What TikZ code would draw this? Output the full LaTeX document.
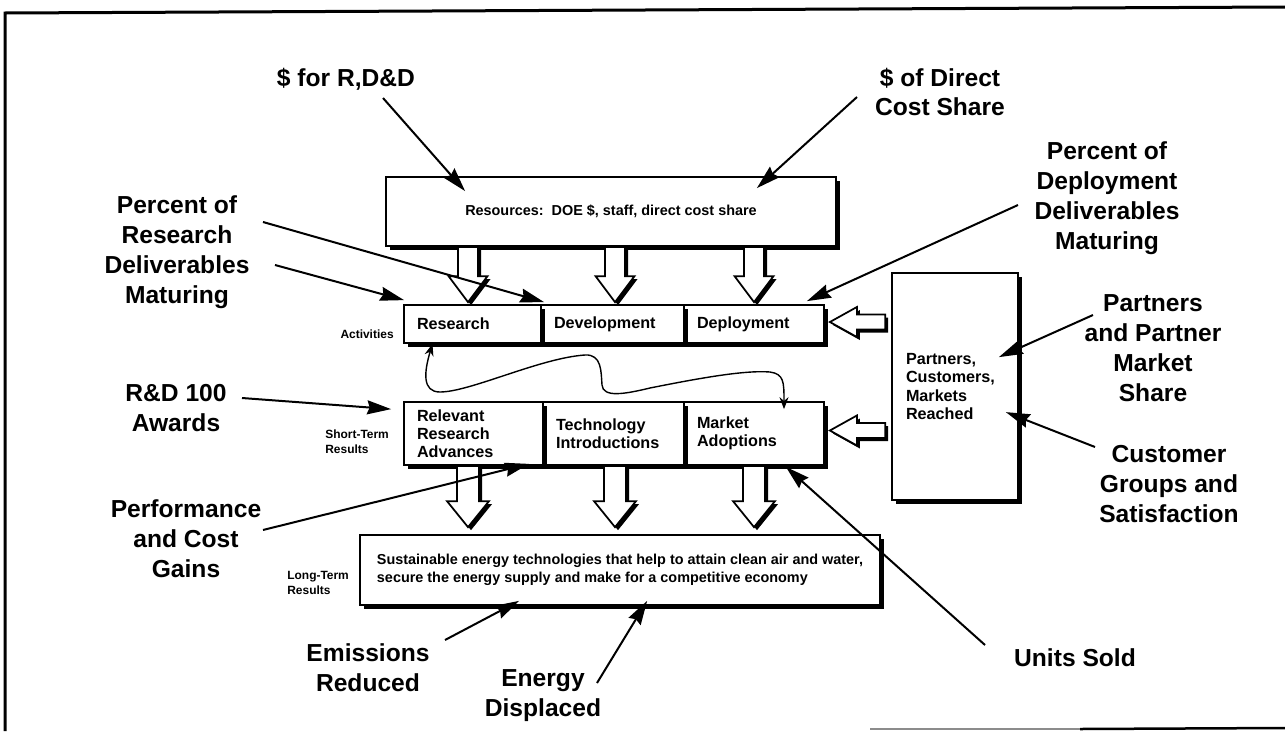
\documentclass[tikz,border=0pt]{standalone}
\usepackage{fontspec}
\setmainfont{Liberation Sans}
\usetikzlibrary{calc,arrows.meta,shadows}

% Hollow block arrow with a black drop shadow:
% #1 start, #2 tip, #3 shaft half-width, #4 head half-width, #5 head length
\newcommand\blockarrow[5]{%
  \path let \p1=(#1), \p2=(#2) in
    \pgfextra{%
      \pgfmathsetmacro\batmpa{atan2(\y2-\y1,\x2-\x1)}%
      \pgfmathsetmacro\batmpb{veclen(\x2-\x1,\y2-\y1)}%
      \xdef\baang{\batmpa}\xdef\balen{\batmpb pt}\xdef\bax{\x1}\xdef\bay{\y1}};
  \begin{scope}[shift={(\bax,\bay)},xshift=0.6mm,yshift=-0.6mm,rotate=\baang]
    \fill (0pt,-#3) -- ({\balen-#5},-#3) -- ({\balen-#5},-#4) -- (\balen,0pt)
      -- ({\balen-#5},#4) -- ({\balen-#5},#3) -- (0pt,#3) -- cycle;
  \end{scope}
  \begin{scope}[shift={(\bax,\bay)},rotate=\baang]
    \filldraw[fill=white,line width=0.35mm,line join=miter]
      (0pt,-#3) -- ({\balen-#5},-#3) -- ({\balen-#5},-#4) -- (\balen,0pt)
      -- ({\balen-#5},#4) -- ({\balen-#5},#3) -- (0pt,#3) -- cycle;
  \end{scope}}

\begin{document}
\begin{tikzpicture}[x=0.2mm,y=-0.2mm,
  box/.style={draw,line width=0.35mm,fill=white,inner ysep=0pt,
    drop shadow={shadow xshift=0.7mm,shadow yshift=-0.7mm,fill=black,opacity=1},
    font=\fontsize{9.2}{10.3}\selectfont\bfseries},
  rowbox/.style={box,inner xsep=2.6mm,align=left},
  big/.style={font=\fontsize{14}{17}\selectfont\bfseries,align=center,inner sep=0pt},
  tag/.style={font=\fontsize{6.8}{8.3}\selectfont\bfseries,align=left,inner sep=0pt},
  ptr/.style={line width=0.4mm,-{Stealth[length=4.8mm,width=2.8mm,inset=0.5mm]}},
  loop/.style={line width=0.28mm,{Stealth[length=2.4mm,width=1.8mm]}-{Stealth[length=2.4mm,width=1.8mm]}}]
\useasboundingbox (0,0) rectangle (1285,731);

% outer frame
\draw[line width=0.6mm] (5,731) -- (5,13) -- (1285,7);
\draw[line width=0.3mm,black!45] (870,729) -- (1080,729);
\draw[line width=0.5mm] (1080,729) -- (1285,728);

% resources
\node[box,minimum width=90mm,minimum height=13.8mm,
      font=\fontsize{8.2}{10}\selectfont\bfseries] (res) at (611,211.5)
  {Resources:\ \ DOE \$, staff, direct cost share};

% activities row (drawn right to left so each shadow shows)
\node[rowbox,minimum height=7.6mm,text width=22.8mm] (deploy) at (754,324) {Deployment};
\node[rowbox,minimum height=7.6mm,text width=23.4mm] (devel) at (612.5,324) {Development};
\node[rowbox,minimum height=7.6mm,text width=22.2mm] (resrch) at (472.5,324) {Research};

% short-term results row
\node[rowbox,minimum height=12.6mm,text width=22.8mm] (market) at (754,433.5) {Market\\Adoptions};
\node[rowbox,minimum height=12.6mm,text width=23mm] (techno) at (613.5,433.5) {Technology\\Introductions};
\node[rowbox,minimum height=12.6mm,text width=22.6mm] (relev) at (473.5,433.5) {Relevant\\Research\\Advances};

% long-term results
\node[box,align=left,minimum width=104mm,minimum height=14mm,
      font=\fontsize{8.2}{10}\selectfont\bfseries] (lt) at (620,570)
  {Sustainable energy technologies that help to attain clean air and water,\\
   secure the energy supply and make for a competitive economy};

% partners box
\node[rowbox,minimum width=25.2mm,minimum height=45.4mm,text width=19.6mm,inner xsep=2.8mm] (rb) at (955,386.5)
  {Partners,\\Customers,\\Markets\\Reached};

% row tags
\node[tag,anchor=east] (tact) at (394,334) {Activities};
\node[tag,anchor=west] (tst) at (325,442) {Short-Term\\Results};
\node[tag,anchor=west] (tlt) at (287,583) {Long-Term\\Results};

% block arrows
\coordinate (c1) at (468,0);
\coordinate (c2) at (615,0);
\coordinate (c3) at (754,0);
\foreach \c in {c1,c2,c3}{
  \blockarrow{\c |- res.south}{$(\c |- resrch.north)+(0,-2)$}{2mm}{3.9mm}{5.2mm}
  \blockarrow{\c |- relev.south}{$(\c |- lt.north)+(0,-7)$}{2.2mm}{4.2mm}{5.2mm}
}
\blockarrow{$(rb.west |- deploy.east)+(-6,-2)$}{$(deploy.east)+(5,-2)$}{1.5mm}{3mm}{5.4mm}
\blockarrow{$(rb.west |- market.east)+(-6,-3)$}{$(market.east)+(5,-3)$}{1.5mm}{3mm}{5.4mm}

% feedback loop between research and market adoption
\draw[loop] ([xshift=-8mm]resrch.south) .. controls (424,372) and (422,392) .. (440,392)
  .. controls (470,392) and (540,358) .. (585,355)
  .. controls (602,354) and (601,372) .. (602,385)
  .. controls (603,398) and (625,394) .. (650,388)
  .. controls (700,378) and (745,370) .. (770,372)
  .. controls (784,374) and (784,382) .. ([xshift=6mm,yshift=-1.6mm]market.north);

% measures
\node[big] (lrdd) at (346,79) {\$ for R,D\&D};
\node[big] (ldir) at (940,92) {\$ of Direct\\Cost Share};
\node[big] (lpres) at (177,252) {Percent of\\Research\\Deliverables\\Maturing};
\node[big] (lpdep) at (1107,198) {Percent of\\Deployment\\Deliverables\\Maturing};
\node[big] (lrd100) at (176,408) {R\&D 100\\Awards};
\node[big] (lperf) at (186,539) {Performance\\and Cost\\Gains};
\node[big] (lpart) at (1153,348) {Partners\\and Partner\\Market\\Share};
\node[big] (lcust) at (1169,484) {Customer\\Groups and\\Satisfaction};
\node[big] (lemis) at (368,668) {Emissions\\Reduced};
\node[big] (lener) at (543,696) {Energy\\Displaced};
\node[big] (lunit) at (1075,658) {Units Sold};

% measure pointers
\coordinate (trdd) at (383,98);
\coordinate (tdir) at (857,97);
\coordinate (tpres) at (263,222);
\coordinate (tdeliv) at (275,265);
\coordinate (tpdep) at (1018,205);
\coordinate (trd) at (242,398);
\coordinate (tperf) at (263,530);
\coordinate (tunit) at (985,645);
\coordinate (temis) at (445,640);
\coordinate (tener) at (597,683);
\coordinate (tpart) at (1093,315);
\coordinate (tcust) at (1095,447);

\draw[ptr] (trdd) -- ($(res.north west)+(80,15)$);
\draw[ptr] (tdir) -- ($(res.north east)+(-80,12)$);
\draw[ptr] (tpres) -- ($(devel.north west)+(4,-2)$);
\draw[ptr] (tdeliv) -- ($(resrch.north west)+(1,-4)$);
\draw[ptr] (tpdep) -- ($(deploy.north east)+(-18,-3)$);
\draw[ptr] (trd) -- ($(relev.north west)+(-12,8)$);
\draw[ptr] (tperf) -- ($(relev.south east)+(-15,-2)$);
\draw[ptr] (tunit) -- ($(market.south east)+(-39,1)$);
\draw[ptr] (temis) -- ($(lt.south west)+(160,-5)$);
\draw[ptr] (tener) -- ($(lt.south west)+(288,-5)$);
\draw[ptr] (tpart) -- ($(rb.north east)+(-20,85)$);
\draw[ptr] (tcust) -- ($(rb.north east)+(-13,140)$);
\end{tikzpicture}
\end{document}
